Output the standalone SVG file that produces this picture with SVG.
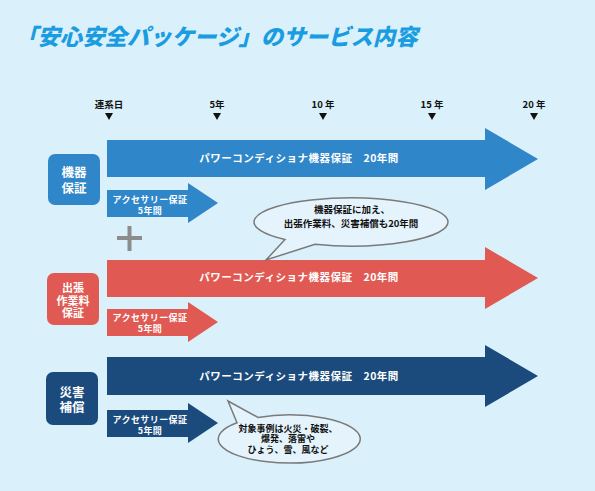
<svg xmlns="http://www.w3.org/2000/svg" width="595" height="491" viewBox="0 0 595 491">
<style>
text{font-family:"Noto Sans CJK JP","Noto Sans",sans-serif;font-weight:bold}
.title{font-size:22.4px;fill:#1a9de0;font-style:italic;font-weight:900}
.tl{font-size:9.5px;fill:#111;text-anchor:middle}
.tri{fill:#111}
.big{font-size:10.5px;fill:#fff;text-anchor:middle;letter-spacing:0.5px}
.small{font-size:9px;fill:#fff;text-anchor:middle;letter-spacing:0.4px}
.lab{font-size:12.5px;fill:#fff;text-anchor:middle}
.lab2{font-size:11px;fill:#fff;text-anchor:middle}
.bub{fill:#e5f4fc;stroke:#7a7a7a;stroke-width:1.5}
.bt{font-size:9.5px;fill:#111;text-anchor:middle}
.bt2{font-size:9px;fill:#111;text-anchor:middle}
.c1{fill:#2f86c9}
.c2{fill:#e05a53}
.c3{fill:#1b4a7c}
</style>
<rect x="0" y="0" width="595" height="491" fill="#daf0fb"/>
<text id="title" class="title" x="15" y="45">「安心安全パッケージ」のサービス内容</text>
<g id="timeline">
<text class="tl" x="109" y="108">連系日</text>
<text class="tl" x="217" y="108">5年</text>
<text class="tl" x="323" y="108">10 年</text>
<text class="tl" x="432" y="108">15 年</text>
<text class="tl" x="534" y="108">20 年</text>
<polygon class="tri" points="105,113 113,113 109,120"/>
<polygon class="tri" points="213,113 221,113 217,120"/>
<polygon class="tri" points="319,113 327,113 323,120"/>
<polygon class="tri" points="428,113 436,113 432,120"/>
<polygon class="tri" points="530,113 538,113 534,120"/>
</g>
<g id="connectors">
<g id="arrow-kiki-20">
<path class="c1" d="M107,140 H485 V128 L538,159 L485,190 V177 H107 Z"/>
<text class="big" x="299" y="162">パワーコンディショナ機器保証　20年間</text>
</g>
<g id="arrow-kiki-5">
<path class="c1" d="M107,190 H188 V183 L218,203 L188,223 V217 H107 Z"/>
<text class="small" x="150" y="203">アクセサリー保証</text>
<text class="small" x="150" y="214">5年間</text>
</g>
<g id="arrow-shutcho-20">
<path class="c2" d="M107,260 H485 V247 L538,278 L485,309 V297 H107 Z"/>
<text class="big" x="299" y="281">パワーコンディショナ機器保証　20年間</text>
</g>
<g id="arrow-shutcho-5">
<path class="c2" d="M107,309 H188 V302 L218,322 L188,342 V336 H107 Z"/>
<text class="small" x="150" y="321">アクセサリー保証</text>
<text class="small" x="150" y="332">5年間</text>
</g>
<g id="arrow-saigai-20">
<path class="c3" d="M107,357 H485 V345 L538,376 L485,407 V395 H107 Z"/>
<text class="big" x="299" y="380">パワーコンディショナ機器保証　20年間</text>
</g>
<g id="arrow-saigai-5">
<path class="c3" d="M107,410 H188 V403 L218,423 L188,443 V437 H107 Z"/>
<text class="small" x="150" y="423">アクセサリー保証</text>
<text class="small" x="150" y="434">5年間</text>
</g>
</g>
<g id="node-kiki">
<rect class="c1" x="48" y="154" width="52" height="51" rx="7"/>
<text class="lab" x="74" y="177">機器</text>
<text class="lab" x="74" y="193">保証</text>
</g>
<g id="plus">
<rect x="117" y="236" width="25" height="4" fill="#8c8c8c"/>
<rect x="127.5" y="226" width="4" height="25" fill="#8c8c8c"/>
</g>
<g id="node-shutcho">
<rect class="c2" x="47" y="273" width="52" height="52" rx="7"/>
<text class="lab2" x="73" y="292">出張</text>
<text class="lab2" x="73" y="304.5">作業料</text>
<text class="lab2" x="73" y="317">保証</text>
</g>
<g id="node-saigai">
<rect class="c3" x="46" y="372" width="52" height="53" rx="7"/>
<text class="lab" x="72" y="397">災害</text>
<text class="lab" x="72" y="412">補償</text>
</g>
<g id="bubble-1">
<path class="bub" d="M285,239.6 L266,260 L315,244.3 A97,24 0 1 0 285,239.6 Z"/>
<text class="bt" x="352" y="213">機器保証に加え、</text>
<text class="bt" x="351" y="227">出張作業料、災害補償も20年間</text>
</g>
<g id="bubble-2">
<path class="bub" d="M237,422.7 L228,401 L258,417.4 A71,24 0 1 1 237,422.7 Z"/>
<text class="bt2" x="288" y="431.5">対象事例は火災・破裂、</text>
<text class="bt2" x="288" y="442">爆発、落雷や</text>
<text class="bt2" x="288" y="452.5">ひょう、雪、風など</text>
</g>
</svg>
